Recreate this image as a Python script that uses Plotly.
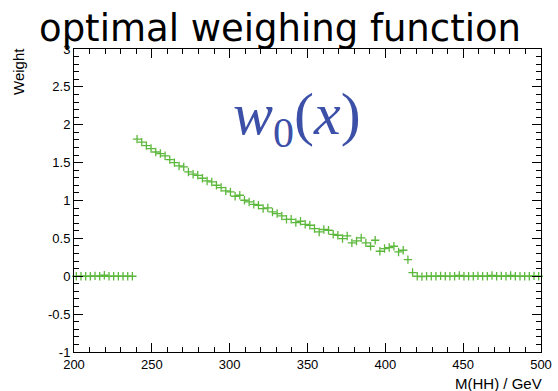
import plotly.graph_objects as go

# bin centres (3 GeV bins from 200 to 500)
mass = [201.5 + 3 * k for k in range(100)]

# weights
weight_low = [0.0, 0.0, 0.0, 0.0, 0.005, 0.0, 0.013, 0.0, 0.0, 0.0, 0.0, 0.0, 0.0]
weight_mid = [1.81, 1.77, 1.725, 1.686, 1.64, 1.62, 1.59, 1.54, 1.50, 1.456,
              1.443, 1.377, 1.347, 1.333, 1.294, 1.258, 1.245, 1.201, 1.171, 1.126,
              1.113, 1.056, 1.069, 1.003, 0.981, 0.950, 0.937, 0.894, 0.902, 0.849,
              0.828, 0.796, 0.752, 0.752, 0.709, 0.726, 0.686, 0.673, 0.630, 0.585,
              0.617, 0.607, 0.554, 0.541, 0.498, 0.532, 0.440, 0.466, 0.506, 0.440,
              0.396, 0.475, 0.330, 0.366, 0.379, 0.396, 0.321, 0.343, 0.220, 0.049]
weight_high = [0.0, -0.005, 0.0, 0.0, 0.0, 0.005, 0.0, 0.0, 0.0, 0.01,
               0.0, 0.0, 0.0, 0.005, 0.0, 0.0, 0.01, 0.0, 0.005, 0.0,
               0.01, 0.0, 0.0, 0.0, 0.0, 0.005, 0.0]
weight = weight_low + weight_mid + weight_high

title_text = "optimal weighing function"
x_title = "M(HH) / GeV"
y_title = "Weight"
x_ticks = [200, 250, 300, 350, 400, 450, 500]
y_ticks = [-1, -0.5, 0, 0.5, 1, 1.5, 2, 2.5, 3]
y_tick_labels = ["-1", "-0.5", "0", "0.5", "1", "1.5", "2", "2.5", "3"]

fig = go.Figure()
fig.add_trace(go.Scatter(
    x=mass, y=weight, mode="markers",
    marker=dict(symbol="cross-thin", size=6, color="#5cb83c",
                line=dict(width=1.3, color="#5cb83c")),
    cliponaxis=False, showlegend=False,
))

font = "Liberation Sans, Arial, sans-serif"
axis_common = dict(
    showgrid=False, zeroline=False, showline=True, linecolor="black", linewidth=1,
    mirror="allticks", ticks="inside", tickcolor="black", ticklen=9, tickwidth=1,
    tickfont=dict(family=font, size=13, color="black"), automargin=False,
)
fig.update_xaxes(range=[200, 500], tickvals=x_ticks,
                 minor=dict(ticks="inside", ticklen=5, dtick=10, tickcolor="black", showgrid=False),
                 **axis_common)
fig.update_yaxes(range=[-1, 3], tickvals=y_ticks, ticktext=y_tick_labels,
                 minor=dict(ticks="inside", ticklen=5, dtick=0.1, tickcolor="black", showgrid=False),
                 ticklabelstandoff=0,
                 **axis_common)

fig.add_annotation(text=title_text, xref="paper", yref="paper", x=(279.5 - 74) / 467, y=1.0,
                   xanchor="center", yanchor="bottom", yshift=-3, showarrow=False,
                   font=dict(family="DejaVu Sans, sans-serif", size=37, color="black"))
fig.add_annotation(text=x_title, xref="paper", yref="paper", x=1.0, y=0,
                   xanchor="right", yanchor="top", yshift=-21, xshift=3, showarrow=False,
                   font=dict(family=font, size=15, color="black"))
fig.add_annotation(text=y_title, xref="paper", yref="paper", x=0, y=1.0,
                   xanchor="right", yanchor="top", xshift=-45, yshift=3, showarrow=False, textangle=-90,
                   font=dict(family=font, size=15, color="black"))
fig.add_annotation(text="<i>w</i><sub>0</sub>(<i>x</i>)", xref="paper", yref="paper",
                   x=(297 - 74) / 467, y=(352 - 118) / 303, xanchor="center", yanchor="middle",
                   showarrow=False,
                   font=dict(family="Liberation Serif, serif", size=60, color="#3c50a8"))

fig.update_layout(
    width=558, height=391, autosize=False,
    margin=dict(l=74, r=17, t=49, b=39, autoexpand=False),
    plot_bgcolor="white", paper_bgcolor="white",
)
fig.write_html("out.html", config=dict(displayModeBar=False, responsive=False))

# remove the default page margin so the figure sits at the window's top-left corner
with open("out.html", "r", encoding="utf-8") as f:
    html = f.read()
html = html.replace("<head>", "<head><style>html,body{margin:0;padding:0;overflow:hidden;}</style>", 1)
with open("out.html", "w", encoding="utf-8") as f:
    f.write(html)
